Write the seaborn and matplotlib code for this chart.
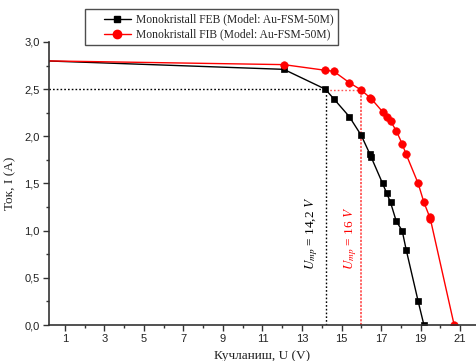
import matplotlib
matplotlib.use("Agg")
import matplotlib.pyplot as plt
import seaborn as sns
import pandas as pd
from matplotlib.ticker import MultipleLocator, FuncFormatter
from matplotlib.legend_handler import HandlerLine2D
from matplotlib.lines import Line2D

# ---- data ----
feb_u = [0.0, 12.08, 14.18, 14.6, 15.39, 16.0, 16.44, 16.5, 17.08, 17.28, 17.48, 17.77, 18.07, 18.27, 18.88, 19.17]
feb_i = [2.80, 2.71, 2.50, 2.40, 2.21, 2.01, 1.81, 1.78, 1.50, 1.40, 1.30, 1.10, 1.00, 0.80, 0.25, 0.0]
fib_u = [0.0, 12.08, 14.18, 14.6, 15.39, 16.0, 16.44, 16.5, 17.08, 17.28, 17.48, 17.77, 18.07, 18.27, 18.88, 19.17, 19.47, 19.5, 20.7]
fib_i = [2.80, 2.76, 2.70, 2.69, 2.57, 2.49, 2.41, 2.40, 2.26, 2.21, 2.16, 2.06, 1.92, 1.81, 1.50, 1.30, 1.14, 1.12, 0.0]
label_feb = "Monokristall FEB (Model: Au-FSM-50M)"
label_fib = "Monokristall FIB (Model: Au-FSM-50M)"
ump_feb, imp_feb = 14.2, 2.50
ump_fib, imp_fib = 16.0, 2.49
x_ticks = [1, 3, 5, 7, 9, 11, 13, 15, 17, 19, 21]

sns.set_theme(style="white")
plt.rcParams['font.family'] = ['Liberation Serif', 'DejaVu Serif']
plt.rcParams['mathtext.fontset'] = 'stix'

fig = plt.figure(figsize=(4.77, 3.61), dpi=100)
ax = fig.add_axes([0.1027, 0.0997, 0.895, 0.784])

df_feb = pd.DataFrame({"U": feb_u, "I": feb_i})
df_fib = pd.DataFrame({"U": fib_u, "I": fib_i})

# reference lines
dot = (0, (1.2, 1.5))
ax.plot([0, ump_feb], [imp_feb, imp_feb], color='black', ls=dot, lw=1.0)
ax.plot([ump_feb, ump_feb], [0, imp_feb], color='black', ls=dot, lw=1.0)
ax.plot([ump_feb, ump_fib], [imp_fib, imp_fib], color='#ff5555', ls=dot, lw=1.0)
ax.plot([ump_fib, ump_fib], [0, imp_fib], color='#ff5555', ls=(0, (1.2, 0.8)), lw=1.3)

sns.lineplot(data=df_feb, x="U", y="I", ax=ax, color='black', marker='s', markersize=4.3,
             markeredgecolor='black', markeredgewidth=0.5, lw=1.0, sort=False, legend=False)
sns.lineplot(data=df_fib, x="U", y="I", ax=ax, color='red', marker='o', markersize=5.4,
             markeredgecolor='red', markeredgewidth=0.5, lw=1.0, sort=False, legend=False)

ax.set_xlim(0.2, 21.8)
ax.set_ylim(0, 3.0)
ax.xaxis.set_major_locator(matplotlib.ticker.FixedLocator(x_ticks))
ax.xaxis.set_minor_locator(MultipleLocator(1))
ax.yaxis.set_major_locator(MultipleLocator(0.5))
ax.yaxis.set_minor_locator(MultipleLocator(0.25))
ax.yaxis.set_major_formatter(FuncFormatter(lambda v, p: f"{v:.1f}".replace('.', ',')))

for s in ['top', 'right']:
    ax.spines[s].set_visible(False)
for s in ['left', 'bottom']:
    ax.spines[s].set_color('#333333')
    ax.spines[s].set_linewidth(1.2)
ax.tick_params(which='major', direction='out', length=4, width=1, color='#333333',
               labelsize=8, pad=2.5, left=True, bottom=True)
ax.tick_params(which='minor', direction='out', length=2.5, width=1, color='#333333',
               left=True, bottom=True)
for lab in ax.get_xticklabels() + ax.get_yticklabels():
    lab.set_family(['Liberation Sans', 'DejaVu Sans'])
    lab.set_color('#222222')

ax.set_xlabel("Кучланиш, U (V)", fontsize=9.5, labelpad=4, color='#222222')
ax.set_ylabel("Ток, I (A)", fontsize=9.5, labelpad=6, color='#222222')

ax.text(13.5, 0.97, r"$U_{mp}$ = 14,2 $V$", rotation=90, ha='center', va='center',
        fontsize=9.5, color='black')
ax.text(15.45, 0.92, r"$U_{mp}$ = 16 $V$", rotation=90, ha='center', va='center',
        fontsize=9.5, color='red')

h1 = Line2D([], [], color='black', marker='s', markersize=5, lw=1.0)
h2 = Line2D([], [], color='red', marker='o', markersize=6, lw=1.0)
fs = 8.4
hm = {h1: HandlerLine2D(xpad=1.25), h2: HandlerLine2D(xpad=1.25)}
leg = ax.legend([h1, h2], [label_feb, label_fib], handler_map=hm,
                loc='upper left', bbox_to_anchor=(85 / 477, 1 - 9 / 361),
                bbox_transform=fig.transFigure, fontsize=fs, frameon=True,
                fancybox=False, edgecolor='#222222', borderpad=0.4, handlelength=3.5,
                labelspacing=0.25, handletextpad=0.45, borderaxespad=0)
leg.get_frame().set_linewidth(1.0)

fig.savefig("out.png", dpi=100)
